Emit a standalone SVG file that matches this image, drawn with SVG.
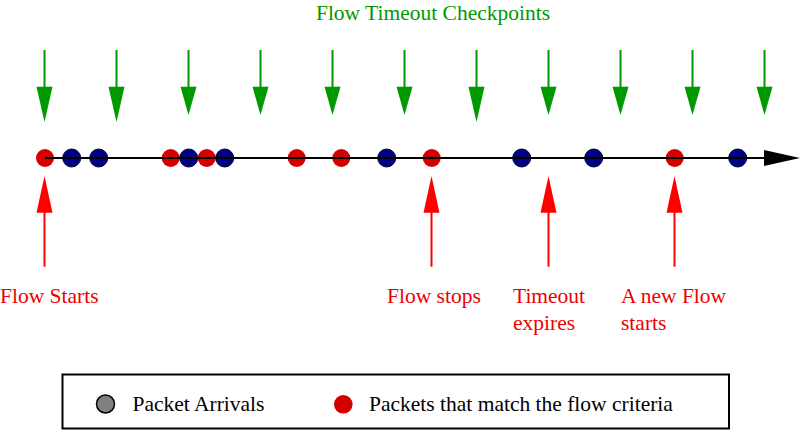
<svg xmlns="http://www.w3.org/2000/svg" width="812" height="434" viewBox="0 0 812 434">
<style>
text{font-family:"Liberation Serif","Times New Roman",serif;}
.g{fill:#009900;font-size:21.5px;}
.r{fill:#ee0000;font-size:21.5px;}
.lg{fill:#000;font-size:21.5px;}
.gl{stroke:#009900;stroke-width:2;fill:none;}
.gh{fill:#009900;}
.rl{stroke:#ff0000;stroke-width:2;fill:none;}
.rh{fill:#ff0000;}
.rd{fill:#d40000;}
.bd{fill:#000080;stroke:#00003a;stroke-width:1;}
</style>
<rect width="812" height="434" fill="#fff"/>
<g id="title"><text class="g" x="433" y="19.5" text-anchor="middle">Flow Timeout Checkpoints</text></g>
<g id="packets">
<circle class="rd" cx="45" cy="158" r="9"/>
<circle class="bd" cx="71.7" cy="158" r="9"/>
<circle class="bd" cx="98.7" cy="158" r="9"/>
<circle class="rd" cx="170.7" cy="158" r="9"/>
<circle class="bd" cx="188.7" cy="158" r="9"/>
<circle class="rd" cx="206.7" cy="158" r="9"/>
<circle class="bd" cx="224.7" cy="158" r="9"/>
<circle class="rd" cx="296.7" cy="158" r="9"/>
<circle class="rd" cx="341.3" cy="158" r="9"/>
<circle class="bd" cx="386.7" cy="158" r="9"/>
<circle class="rd" cx="431.7" cy="158" r="9"/>
<circle class="bd" cx="521.7" cy="158" r="9"/>
<circle class="bd" cx="593.7" cy="158" r="9"/>
<circle class="rd" cx="674.7" cy="158" r="9"/>
<circle class="bd" cx="737.7" cy="158" r="9"/>
</g>
<g id="connectors">
<g id="timeline">
<line x1="45" y1="158" x2="766" y2="158" stroke="#000" stroke-width="2"/>
<polygon points="764,150 800,158 764,166" fill="#000"/>
</g>
<g id="checkpoints">
<line class="gl" x1="44.5" y1="50" x2="44.5" y2="88"/><polygon class="gh" points="36.5,86.7 52.5,86.7 44.5,122"/>
<line class="gl" x1="116.5" y1="50" x2="116.5" y2="88"/><polygon class="gh" points="108.5,86.7 124.5,86.7 116.5,122"/>
<line class="gl" x1="188.5" y1="50" x2="188.5" y2="88"/><polygon class="gh" points="180.5,86.7 196.5,86.7 188.5,115"/>
<line class="gl" x1="260.5" y1="50" x2="260.5" y2="88"/><polygon class="gh" points="252.5,86.7 268.5,86.7 260.5,115"/>
<line class="gl" x1="332.5" y1="50" x2="332.5" y2="88"/><polygon class="gh" points="324.5,86.7 340.5,86.7 332.5,115"/>
<line class="gl" x1="404.5" y1="50" x2="404.5" y2="88"/><polygon class="gh" points="396.5,86.7 412.5,86.7 404.5,115"/>
<line class="gl" x1="476.5" y1="50" x2="476.5" y2="88"/><polygon class="gh" points="468.5,86.7 484.5,86.7 476.5,122"/>
<line class="gl" x1="548.5" y1="50" x2="548.5" y2="88"/><polygon class="gh" points="540.5,86.7 556.5,86.7 548.5,115"/>
<line class="gl" x1="620.5" y1="50" x2="620.5" y2="88"/><polygon class="gh" points="612.5,86.7 628.5,86.7 620.5,115"/>
<line class="gl" x1="692.5" y1="50" x2="692.5" y2="88"/><polygon class="gh" points="684.5,86.7 700.5,86.7 692.5,115"/>
<line class="gl" x1="764.5" y1="50" x2="764.5" y2="88"/><polygon class="gh" points="756.5,86.7 772.5,86.7 764.5,115"/>
</g>
<g id="events">
<line class="rl" x1="44.5" y1="266.7" x2="44.5" y2="211"/><polygon class="rh" points="36.5,212.7 52.5,212.7 44.5,176"/>
<line class="rl" x1="431.5" y1="266.7" x2="431.5" y2="211"/><polygon class="rh" points="423.5,212.7 439.5,212.7 431.5,176"/>
<line class="rl" x1="548.5" y1="266.7" x2="548.5" y2="211"/><polygon class="rh" points="540.5,212.7 556.5,212.7 548.5,176"/>
<line class="rl" x1="674.5" y1="266.7" x2="674.5" y2="211"/><polygon class="rh" points="666.5,212.7 682.5,212.7 674.5,176"/>
</g>
</g>
<g id="label-flow-starts"><text class="r" x="0" y="303">Flow Starts</text></g>
<g id="label-flow-stops"><text class="r" x="387" y="303">Flow stops</text></g>
<g id="label-timeout"><text class="r" x="513" y="303">Timeout</text><text class="r" x="513" y="329.5">expires</text></g>
<g id="label-new-flow"><text class="r" x="621" y="303">A new Flow</text><text class="r" x="621" y="329.5">starts</text></g>
<g id="legend">
<rect x="62.5" y="374.5" width="666.5" height="54" fill="#fff" stroke="#000" stroke-width="2"/>
<circle cx="105.5" cy="404" r="9" fill="#808080" stroke="#000" stroke-width="1.5"/>
<text class="lg" x="132.5" y="411">Packet Arrivals</text>
<circle cx="343.3" cy="404.3" r="9.3" fill="#d40000"/>
<text class="lg" x="369" y="411">Packets that match the flow criteria</text>
</g>
</svg>
